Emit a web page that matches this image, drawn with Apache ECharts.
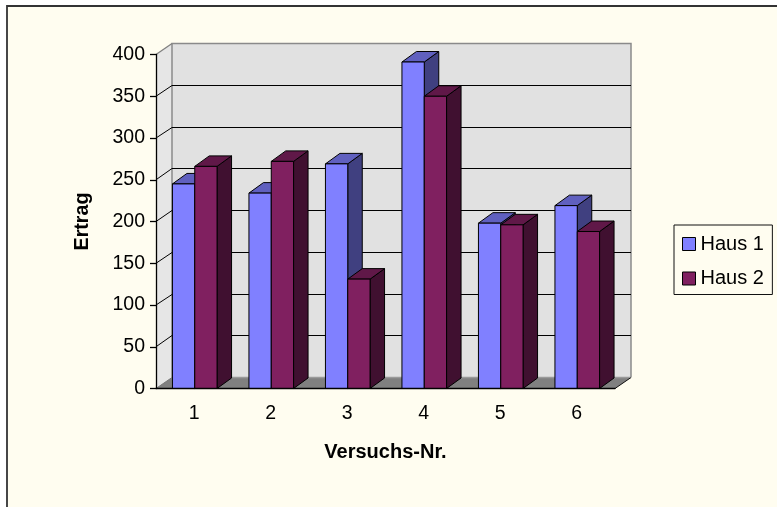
<!DOCTYPE html>
<html><head><meta charset="utf-8">
<script src="https://cdn.jsdelivr.net/npm/echarts@6/dist/echarts.min.js"></script>
<style>html,body{margin:0;padding:0;background:#fff}#c{width:777px;height:507px}</style>
</head><body><div id="c"></div>
<script>
const categories = ['1','2','3','4','5','6'];
const haus1 = [245, 234, 269, 391, 198, 219];
const haus2 = [266, 272, 131, 350, 196, 188];
const yTicks = [0, 50, 100, 150, 200, 250, 300, 350, 400];
const DX = 16, DY = -11, BAR_DX = 14.5, BAR_DY = -10.5, BAR_RATIO = 0.2915;

function poly(points, fill, stroke, lw) {
  return { type: 'polygon', shape: { points }, style: { fill, stroke: stroke || 'none', lineWidth: lw || 0 } };
}
function line(points, stroke, lw) {
  return { type: 'polyline', shape: { points }, style: { fill: 'none', stroke, lineWidth: lw } };
}
function wallItem(params, api) {
  const cs = params.coordSys;
  const v = api.value(1);
  const y = api.coord([0, v])[1];
  const l = cs.x, r = cs.x + cs.width, b = cs.y + cs.height, t = cs.y;
  const kids = [];
  if (v === 0) {
    kids.push(poly([[l + DX, t + DY], [r + DX, t + DY], [r + DX, b + DY], [l + DX, b + DY]], '#E1E1E1'));
    kids.push(poly([[l, b], [l + DX, b + DY], [l + DX, t + DY], [l, t]], '#E6E6E6'));
    kids.push(poly([[l, b], [r, b], [r + DX, b + DY], [l + DX, b + DY]], '#808080'));
    kids.push(line([[l + DX, b + DY], [r + DX, b + DY]], '#9A9A9A', 1.5));
    kids.push(line([[r, b], [r + DX, b + DY]], '#111', 1));
    kids.push(line([[l + DX, b + DY], [l + DX, t + DY], [r + DX, t + DY], [r + DX, b + DY]], '#8A8A8A', 1.5));
    kids.push(line([[l, b], [l + DX, b + DY]], '#777', 1));
  } else if (v === 400) {
    kids.push(line([[l, y], [l + DX, y + DY]], '#808080', 1.3));
  } else {
    const by = Math.round(y + DY - 0.5) + 0.5;
    kids.push(line([[l, y], [l + DX, by], [r + DX, by]], '#000', 1));
  }
  return { type: 'group', children: kids };
}
function barRenderer(side, front, top, sideCol) {
  return function (params, api) {
    const p = api.coord([api.value(0), api.value(1)]);
    const base = api.coord([api.value(0), 0])[1];
    const w = api.size([1, 0])[0] * BAR_RATIO;
    const x0 = p[0] + 0.5 + (side === 0 ? -w : 0);
    const x1 = x0 + w;
    const y = p[1];
    return { type: 'group', children: [
      poly([[x1, y], [x1 + BAR_DX, y + BAR_DY], [x1 + BAR_DX, base + BAR_DY], [x1, base]], sideCol, '#000', 1),
      poly([[x0, y], [x0 + BAR_DX, y + BAR_DY], [x1 + BAR_DX, y + BAR_DY], [x1, y]], top, '#000', 1),
      poly([[x0, y], [x1, y], [x1, base], [x0, base]], front, '#000', 1)
    ] };
  };
}
const chart = echarts.init(document.getElementById('c'), null, { renderer: 'canvas' });
const FONT = '"Liberation Sans", Arial, sans-serif';
chart.setOption({
  animation: false,
  backgroundColor: '#fff',
  textStyle: { fontFamily: FONT },
  graphic: [{ type: 'rect', z: -10, shape: { x: 7, y: 6, width: 820, height: 560 },
    style: { fill: '#FFFDF0', stroke: '#333', lineWidth: 1.8 } }],
  grid: { left: 156, top: 54.5, width: 459, height: 334 },
  legend: {
    left: 674, top: 225, orient: 'vertical', padding: [9, 8.5, 6, 8], itemGap: 14.5,
    itemWidth: 13, itemHeight: 13, borderColor: '#111', borderWidth: 1, backgroundColor: '#FFFDF0',
    textStyle: { fontFamily: FONT, fontSize: 20, color: '#000' },
    data: [
      { name: 'Haus 1', icon: 'rect', itemStyle: { color: '#8080FF', borderColor: '#000', borderWidth: 1 } },
      { name: 'Haus 2', icon: 'rect', itemStyle: { color: '#802060', borderColor: '#000', borderWidth: 1 } }
    ]
  },
  xAxis: {
    type: 'category', data: categories, z: 6,
    name: 'Versuchs-Nr.', nameLocation: 'middle', nameGap: 54,
    nameTextStyle: { fontFamily: FONT, fontSize: 20, fontWeight: 'bold', color: '#000' },
    axisLine: { lineStyle: { color: '#000', width: 1.3 } },
    axisTick: { alignWithLabel: false, length: 7, lineStyle: { color: '#000', width: 1.3 } },
    axisLabel: { color: '#000', fontSize: 19.5, margin: 15, fontFamily: FONT }
  },
  yAxis: {
    type: 'value', min: 0, max: 400, interval: 50, z: 6,
    name: 'Ertrag', nameLocation: 'middle', nameGap: 63, nameRotate: 90,
    nameTextStyle: { fontFamily: FONT, fontSize: 19.7, fontWeight: 'bold', color: '#000' },
    splitLine: { show: false },
    axisLine: { show: true, lineStyle: { color: '#000', width: 1.3 } },
    axisTick: { show: true, length: 6, lineStyle: { color: '#000', width: 1.3 } },
    axisLabel: { color: '#000', fontSize: 19.5, margin: 11, fontFamily: FONT }
  },
  series: [
    { type: 'custom', z: 1, silent: true, renderItem: wallItem, encode: { x: 0, y: 1 },
      data: yTicks.map(v => [0, v]) },
    { type: 'custom', name: 'Haus 1', z: 2, renderItem: barRenderer(0, '#8080FF', '#6060BF', '#404080'),
      encode: { x: 0, y: 1 }, itemStyle: { color: '#8080FF' }, data: haus1.map((v, i) => [i, v]) },
    { type: 'custom', name: 'Haus 2', z: 3, renderItem: barRenderer(1, '#802060', '#601848', '#401030'),
      encode: { x: 0, y: 1 }, itemStyle: { color: '#802060' }, data: haus2.map((v, i) => [i, v]) }
  ]
});
</script></body></html>
